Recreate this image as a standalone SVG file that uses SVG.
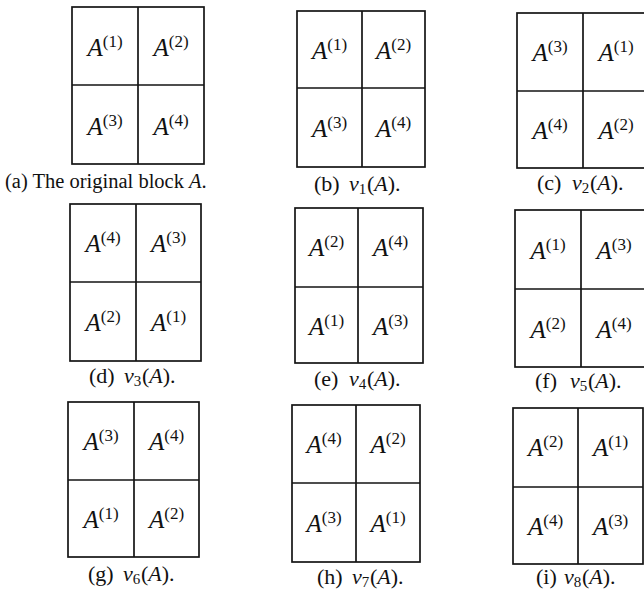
<svg xmlns="http://www.w3.org/2000/svg" width="644" height="591" viewBox="0 0 644 591">
<style>
.box{fill:none;stroke:#141414;stroke-width:1.7}
.lbl{font-family:"Liberation Serif","Times New Roman",serif;font-size:25px;fill:#111;text-anchor:middle}
.cap{font-family:"Liberation Serif","Times New Roman",serif;font-size:22px;fill:#111}
.it{font-style:italic}
.sup{font-size:17px;font-style:normal}
.sub{font-size:15px;font-style:normal}
</style>
<rect width="644" height="591" fill="#fff"/>
<g id="connectors"></g>

<g id="panel-a">
<rect class="box" x="72" y="7" width="132" height="157"/>
<path class="box" d="M138 7V164M72 85H204"/>
<text class="lbl" x="105" y="56"><tspan class="it">A</tspan><tspan class="sup" dy="-9">(1)</tspan></text>
<text class="lbl" x="171" y="56"><tspan class="it">A</tspan><tspan class="sup" dy="-9">(2)</tspan></text>
<text class="lbl" x="105" y="135"><tspan class="it">A</tspan><tspan class="sup" dy="-9">(3)</tspan></text>
<text class="lbl" x="171" y="135"><tspan class="it">A</tspan><tspan class="sup" dy="-9">(4)</tspan></text>
<text class="cap" x="5" y="188" style="font-size:20.5px">(a) The original block <tspan class="it">A</tspan>.</text>
</g>

<g id="panel-b">
<rect class="box" x="297" y="11" width="128" height="156"/>
<path class="box" d="M362 11V167M297 88H425"/>
<text class="lbl" x="329.5" y="59"><tspan class="it">A</tspan><tspan class="sup" dy="-9">(1)</tspan></text>
<text class="lbl" x="393.5" y="59"><tspan class="it">A</tspan><tspan class="sup" dy="-9">(2)</tspan></text>
<text class="lbl" x="329.5" y="137"><tspan class="it">A</tspan><tspan class="sup" dy="-9">(3)</tspan></text>
<text class="lbl" x="393.5" y="137"><tspan class="it">A</tspan><tspan class="sup" dy="-9">(4)</tspan></text>
<text class="cap" x="314" y="191">(b)</text>
<text class="cap" y="191"><tspan x="349" class="it">v</tspan><tspan class="sub" dy="3">1</tspan><tspan x="367" dy="-3">(</tspan><tspan class="it">A</tspan><tspan>).</tspan></text>
</g>

<g id="panel-c">
<rect class="box" x="517" y="13" width="132" height="155"/>
<path class="box" d="M583 13V168M517 91H649"/>
<text class="lbl" x="550" y="61"><tspan class="it">A</tspan><tspan class="sup" dy="-9">(3)</tspan></text>
<text class="lbl" x="616" y="61"><tspan class="it">A</tspan><tspan class="sup" dy="-9">(1)</tspan></text>
<text class="lbl" x="550" y="139"><tspan class="it">A</tspan><tspan class="sup" dy="-9">(4)</tspan></text>
<text class="lbl" x="616" y="139"><tspan class="it">A</tspan><tspan class="sup" dy="-9">(2)</tspan></text>
<text class="cap" x="537" y="190">(c)</text>
<text class="cap" y="190"><tspan x="572" class="it">v</tspan><tspan class="sub" dy="3">2</tspan><tspan x="590" dy="-3">(</tspan><tspan class="it">A</tspan><tspan>).</tspan></text>
</g>

<g id="panel-d">
<rect class="box" x="70" y="204" width="131" height="157"/>
<path class="box" d="M136 204V361M70 282H201"/>
<text class="lbl" x="103" y="252"><tspan class="it">A</tspan><tspan class="sup" dy="-9">(4)</tspan></text>
<text class="lbl" x="168.5" y="252"><tspan class="it">A</tspan><tspan class="sup" dy="-9">(3)</tspan></text>
<text class="lbl" x="103" y="331"><tspan class="it">A</tspan><tspan class="sup" dy="-9">(2)</tspan></text>
<text class="lbl" x="168.5" y="331"><tspan class="it">A</tspan><tspan class="sup" dy="-9">(1)</tspan></text>
<text class="cap" x="89" y="383">(d)</text>
<text class="cap" y="383"><tspan x="124" class="it">v</tspan><tspan class="sub" dy="3">3</tspan><tspan x="142" dy="-3">(</tspan><tspan class="it">A</tspan><tspan>).</tspan></text>
</g>

<g id="panel-e">
<rect class="box" x="295" y="208" width="128" height="155"/>
<path class="box" d="M358 208V363M295 287H423"/>
<text class="lbl" x="326.5" y="256"><tspan class="it">A</tspan><tspan class="sup" dy="-9">(2)</tspan></text>
<text class="lbl" x="390.5" y="256"><tspan class="it">A</tspan><tspan class="sup" dy="-9">(4)</tspan></text>
<text class="lbl" x="326.5" y="335"><tspan class="it">A</tspan><tspan class="sup" dy="-9">(1)</tspan></text>
<text class="lbl" x="390.5" y="335"><tspan class="it">A</tspan><tspan class="sup" dy="-9">(3)</tspan></text>
<text class="cap" x="314" y="386">(e)</text>
<text class="cap" y="386"><tspan x="349" class="it">v</tspan><tspan class="sub" dy="3">4</tspan><tspan x="367" dy="-3">(</tspan><tspan class="it">A</tspan><tspan>).</tspan></text>
</g>

<g id="panel-f">
<rect class="box" x="515" y="210" width="132" height="157"/>
<path class="box" d="M581 210V367M515 289H647"/>
<text class="lbl" x="548" y="259"><tspan class="it">A</tspan><tspan class="sup" dy="-9">(1)</tspan></text>
<text class="lbl" x="614" y="259"><tspan class="it">A</tspan><tspan class="sup" dy="-9">(3)</tspan></text>
<text class="lbl" x="548" y="338"><tspan class="it">A</tspan><tspan class="sup" dy="-9">(2)</tspan></text>
<text class="lbl" x="614" y="338"><tspan class="it">A</tspan><tspan class="sup" dy="-9">(4)</tspan></text>
<text class="cap" x="535" y="388">(f)</text>
<text class="cap" y="388"><tspan x="570" class="it">v</tspan><tspan class="sub" dy="3">5</tspan><tspan x="588" dy="-3">(</tspan><tspan class="it">A</tspan><tspan>).</tspan></text>
</g>

<g id="panel-g">
<rect class="box" x="68" y="402" width="131" height="155"/>
<path class="box" d="M134 402V557M68 480H199"/>
<text class="lbl" x="101" y="450"><tspan class="it">A</tspan><tspan class="sup" dy="-9">(3)</tspan></text>
<text class="lbl" x="166.5" y="450"><tspan class="it">A</tspan><tspan class="sup" dy="-9">(4)</tspan></text>
<text class="lbl" x="101" y="528"><tspan class="it">A</tspan><tspan class="sup" dy="-9">(1)</tspan></text>
<text class="lbl" x="166.5" y="528"><tspan class="it">A</tspan><tspan class="sup" dy="-9">(2)</tspan></text>
<text class="cap" x="88" y="581">(g)</text>
<text class="cap" y="581"><tspan x="123" class="it">v</tspan><tspan class="sub" dy="3">6</tspan><tspan x="141" dy="-3">(</tspan><tspan class="it">A</tspan><tspan>).</tspan></text>
</g>

<g id="panel-h">
<rect class="box" x="292" y="405" width="128" height="157"/>
<path class="box" d="M356 405V562M292 483H420"/>
<text class="lbl" x="324" y="453"><tspan class="it">A</tspan><tspan class="sup" dy="-9">(4)</tspan></text>
<text class="lbl" x="388" y="453"><tspan class="it">A</tspan><tspan class="sup" dy="-9">(2)</tspan></text>
<text class="lbl" x="324" y="532"><tspan class="it">A</tspan><tspan class="sup" dy="-9">(3)</tspan></text>
<text class="lbl" x="388" y="532"><tspan class="it">A</tspan><tspan class="sup" dy="-9">(1)</tspan></text>
<text class="cap" x="317" y="584">(h)</text>
<text class="cap" y="584"><tspan x="352" class="it">v</tspan><tspan class="sub" dy="3">7</tspan><tspan x="370" dy="-3">(</tspan><tspan class="it">A</tspan><tspan>).</tspan></text>
</g>

<g id="panel-i">
<rect class="box" x="513" y="408" width="130" height="156"/>
<path class="box" d="M578 408V564M513 487H643"/>
<text class="lbl" x="545.5" y="456"><tspan class="it">A</tspan><tspan class="sup" dy="-9">(2)</tspan></text>
<text class="lbl" x="610.5" y="456"><tspan class="it">A</tspan><tspan class="sup" dy="-9">(1)</tspan></text>
<text class="lbl" x="545.5" y="535"><tspan class="it">A</tspan><tspan class="sup" dy="-9">(4)</tspan></text>
<text class="lbl" x="610.5" y="535"><tspan class="it">A</tspan><tspan class="sup" dy="-9">(3)</tspan></text>
<text class="cap" x="536" y="584">(i)</text>
<text class="cap" y="584"><tspan x="564" class="it">v</tspan><tspan class="sub" dy="3">8</tspan><tspan x="582" dy="-3">(</tspan><tspan class="it">A</tspan><tspan>).</tspan></text>
</g>
</svg>
